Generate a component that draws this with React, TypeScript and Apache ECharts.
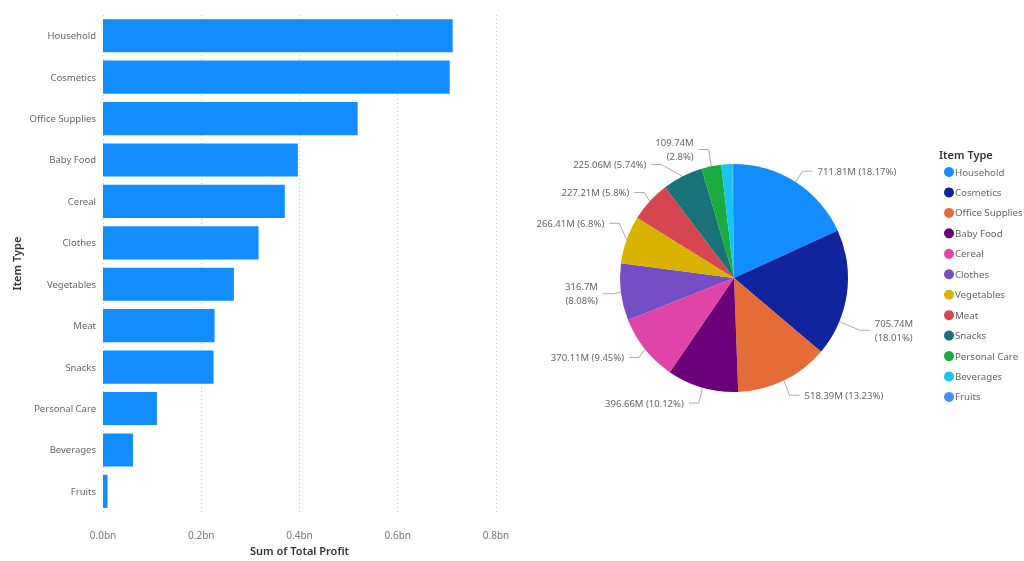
import React, { useEffect, useRef } from "react";
import * as echarts from "echarts";

const categories = ["Household", "Cosmetics", "Office Supplies", "Baby Food", "Cereal", "Clothes", "Vegetables", "Meat", "Snacks", "Personal Care", "Beverages", "Fruits"];
const profitM = [711.81, 705.74, 518.39, 396.66, 370.11, 316.7, 266.41, 227.21, 225.06, 109.74, 61.0, 9.27];
const colors = ["#118DFF", "#12239E", "#E66C37", "#6B007B", "#E044A7", "#744EC2", "#D9B300", "#D64550", "#197278", "#1AAB40", "#15C6F4", "#4092FF"];
const wrapped = ["Cosmetics", "Clothes", "Personal Care"];
const hiddenLabels = ["Beverages", "Fruits"];

// label nudges (layout only) to mimic the original's label placement
const labelShiftY: Record<string, number> = { Cosmetics: 35, Snacks: -12, Vegetables: -12, "Personal Care": -4, "Baby Food": 3, "Office Supplies": 3 };

const FONT = "'Noto Sans', 'Segoe UI', sans-serif";
const PIE_CX = 734;
const PIE_CY = 278;
const PIE_R = 114;

export default function App() {
  const ref = useRef<HTMLDivElement>(null);
  useEffect(() => {
    if (!ref.current) return;
    const chart = echarts.init(ref.current, undefined, { renderer: "svg" });
    const total = profitM.reduce((a, b) => a + b, 0);
    chart.setOption({
      animation: false,
      textStyle: { fontFamily: FONT },
      grid: { left: 103, right: 528, top: 15, bottom: 46 },
      xAxis: {
        type: "value",
        min: 0,
        max: 0.8,
        interval: 0.2,
        name: "Sum of Total Profit",
        nameLocation: "middle",
        nameGap: 29,
        nameTextStyle: { color: "#333", fontSize: 11, fontWeight: 600 },
        axisLine: { show: false },
        axisTick: { show: false },
        axisLabel: { color: "#777", fontSize: 10, margin: 18, formatter: (v: number) => v.toFixed(1) + "bn" },
        splitLine: { show: true, lineStyle: { type: [1, 3], color: "#C8C8C8" } },
      },
      yAxis: {
        type: "category",
        data: categories,
        inverse: true,
        name: "Item Type",
        nameLocation: "middle",
        nameGap: 81,
        nameRotate: 90,
        nameTextStyle: { color: "#333", fontSize: 11, fontWeight: 600 },
        axisLine: { show: false },
        axisTick: { show: false },
        axisLabel: { color: "#666", fontSize: 9.5, margin: 7 },
      },
      legend: {
        orient: "vertical",
        left: 939,
        top: 161,
        icon: "circle",
        itemWidth: 10,
        itemHeight: 10,
        itemGap: 8.45,
        textStyle: { color: "#666", fontSize: 9.7, lineHeight: 12, padding: [0, 0, 0, -4] },
        data: categories,
      },
      graphic: [
        { type: "text", left: 939, top: 149, style: { text: "Item Type", fill: "#333", font: `600 11px ${FONT}` } },
      ],
      series: [
        {
          type: "bar",
          data: profitM.map((v) => v / 1000),
          barCategoryGap: "20%",
          itemStyle: { color: "#118DFF" },
        },
        {
          type: "pie",
          center: [PIE_CX, PIE_CY],
          radius: PIE_R,
          startAngle: 90,
          clockwise: true,
          data: categories.map((c, i) => ({
            name: c,
            value: profitM[i],
            itemStyle: { color: colors[i] },
            label: { show: !hiddenLabels.includes(c) },
            labelLine: { show: !hiddenLabels.includes(c) },
          })),
          label: {
            color: "#666",
            fontSize: 9.5,
            lineHeight: 14,
            formatter: (p: any) => {
              const pct = Math.round((p.value / total) * 10000) / 100;
              const sep = wrapped.includes(p.name) ? "\n" : " ";
              return `${p.value}M${sep}(${pct}%)`;
            },
          },
          labelLayout: (p: any) => {
            if (p.seriesIndex !== 1) return {};
            const dy = labelShiftY[categories[p.dataIndex]] || 0;
            const pts = p.labelLinePoints;
            if (!dy || !pts) return {};
            let p0 = pts[0];
            if (Math.abs(dy) > 20) {
              const side = pts[0][0] >= PIE_CX ? 1 : -1;
              let y0 = pts[0][1] + dy * 0.8;
              const lim = PIE_R - 2;
              y0 = Math.max(PIE_CY - lim, Math.min(PIE_CY + lim, y0));
              const x0 = PIE_CX + side * Math.sqrt(PIE_R * PIE_R - (y0 - PIE_CY) * (y0 - PIE_CY));
              p0 = [x0, y0];
            }
            return {
              dy,
              labelLinePoints: [
                p0,
                [pts[1][0], pts[1][1] + dy],
                [pts[2][0], pts[2][1] + dy],
              ],
            };
          },
          labelLine: { length: 13, length2: 10, lineStyle: { color: "#AAA" } },
        },
      ],
    });
    return () => chart.dispose();
  }, []);
  return <div ref={ref} style={{ position: "fixed", left: 0, top: 0, width: 1024, height: 561 }} />;
}
